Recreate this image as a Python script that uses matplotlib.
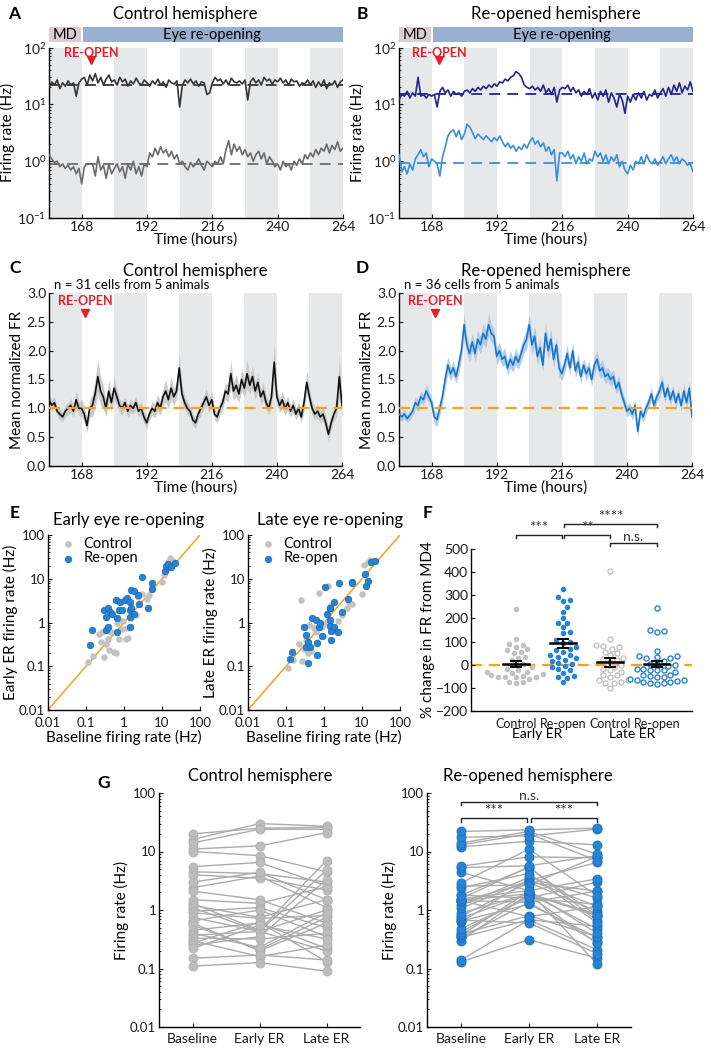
import matplotlib
matplotlib.use("Agg")
import matplotlib.pyplot as plt
import matplotlib.ticker as mticker
import matplotlib.transforms as mtrans
import numpy as np

plt.rcParams["font.family"] = ["Lato", "DejaVu Sans"]
plt.rcParams["mathtext.default"] = "regular"
plt.rcParams["axes.linewidth"] = 1.0

# ── Data ───────────────────────────────────────────────────────────────────────
# hourly samples, 156 h .. 264 h
a_top = [20, 25, 22, 27, 19, 24, 21, 26, 22, 24, 14, 24,
         28, 30, 22, 33, 26, 35, 24, 30, 22, 28, 33, 25,
         27, 22, 30, 25, 28, 21, 26, 23, 29, 24, 22, 27,
         24, 21, 26, 23, 28, 22, 25, 20, 27, 24, 23, 26,
         9, 22, 27, 24, 28, 23, 26, 21, 25, 24, 15, 16,
         24, 30, 26, 28, 23, 27, 22, 29, 25, 24, 26, 23,
         27, 12, 25, 29, 24, 27, 22, 30, 26, 28, 23, 27,
         25, 29, 24, 27, 22, 28, 25, 26, 21, 24, 23, 27,
         22, 26, 20, 25, 21, 27, 19, 24, 22, 26, 20, 25, 27]
a_bot = [1.3, 1.1, 0.95, 1.0, 0.8, 0.9, 0.75, 0.85, 0.7, 0.8, 0.6, 0.75,
         0.4, 0.8, 0.9, 0.9, 0.9, 0.55, 1.2, 0.7, 0.85, 0.5, 0.9, 0.6,
         0.75, 0.9, 0.65, 0.8, 0.5, 0.9, 0.7, 1.0, 0.6, 0.8, 0.55, 0.9,
         0.8, 1.4, 1.2, 1.7, 1.3, 1.8, 1.4, 1.6, 1.2, 1.5, 1.1, 1.3,
         0.9, 1.0, 0.8, 0.7, 0.95, 0.8, 0.9, 1.1, 0.85, 0.7, 1.0, 0.9,
         0.8, 1.0, 0.9, 1.2, 0.9, 1.6, 2.3, 1.3, 2.0, 1.5, 1.8, 1.3,
         1.6, 1.2, 1.4, 1.0, 1.3, 1.5, 1.1, 1.4, 0.9, 1.2, 1.0, 0.8,
         0.9, 0.7, 1.0, 0.8, 0.9, 0.7, 1.0, 0.85, 1.1, 0.9, 1.3, 1.1,
         1.4, 1.2, 1.6, 1.3, 1.7, 1.5, 2.0, 1.4, 1.9, 1.6, 2.2, 1.5, 1.7]
a_baseline = [22, 0.88]

b_top = [12, 15, 14, 17, 13, 16, 14, 30, 14, 15, 13, 15,
         14, 15, 9, 17, 20, 16, 18, 14, 17, 15, 16, 14,
         17, 18, 16, 19, 17, 20, 18, 21, 19, 22, 20, 23,
         21, 25, 24, 28, 26, 30, 32, 38, 35, 30, 22, 20,
         19, 21, 18, 20, 17, 22, 16, 19, 15, 20, 11, 18,
         20, 19, 22, 17, 20, 16, 18, 14, 17, 15, 19, 13,
         16, 12, 17, 14, 18, 11, 16, 13, 9, 15, 12, 7,
         14, 11, 15, 12, 16, 13, 17, 12, 15, 14, 18, 13,
         16, 19, 14, 20, 15, 22, 17, 24, 16, 21, 18, 25, 17]
b_bot = [1.3, 0.65, 0.8, 0.6, 0.9, 0.7, 1.1, 1.3, 1.6, 1.2, 1.4, 0.8,
         1.1, 1.0, 0.9, 0.55, 1.2, 1.8, 2.8, 3.3, 3.6, 2.7, 3.5, 2.4,
         3.0, 4.5, 4.0, 3.2, 2.5, 3.0, 2.7, 2.4, 2.8, 2.5, 2.2, 2.6,
         2.3, 2.8, 2.2, 1.8, 2.1, 1.7, 1.9, 1.5, 1.8, 1.6, 2.0, 1.7,
         2.2, 2.6, 2.0, 2.3, 1.8, 2.1, 1.5, 1.8, 1.3, 1.6, 0.45, 1.4,
         1.4, 1.2, 1.5, 1.1, 1.3, 0.9, 1.2, 1.0, 1.4, 0.9, 1.1, 1.0,
         1.5, 1.2, 1.4, 1.0, 1.3, 0.9, 1.2, 1.0, 1.3, 0.8, 1.0, 0.7,
         0.6, 0.85, 0.7, 1.0, 0.9, 1.2, 0.9, 1.3, 1.0, 0.9, 1.1, 0.85,
         1.0, 1.2, 0.9, 1.1, 1.3, 1.0, 1.2, 0.9, 1.1, 1.0, 0.85, 0.9, 0.65]
b_baseline = [15.5, 0.93]

c_mean = [1.15, 1.05, 1.1, 0.95, 0.9, 0.85, 0.95, 1.0, 1.05, 0.95, 1.15, 1.0,
          1.0, 0.9, 0.7, 1.0, 1.05, 1.25, 1.55, 1.3, 1.2, 1.0, 1.3, 1.1,
          1.35, 1.2, 1.05, 1.0, 1.1, 0.95, 1.05, 1.0, 1.1, 0.95, 1.0, 0.85,
          0.75, 0.9, 1.0, 0.95, 1.1, 1.0, 1.2, 1.3, 1.15, 1.35, 1.2, 1.3,
          1.7, 1.25, 1.1, 1.0, 0.95, 0.8, 0.75, 0.9, 1.0, 1.1, 1.2, 1.05,
          1.15, 0.9, 0.85, 1.0, 1.1, 1.3, 1.25, 1.6, 1.3, 1.4, 1.25, 1.5,
          1.35, 1.6, 1.4, 1.55, 1.3, 1.45, 1.2, 1.3, 1.1, 1.0, 1.2, 1.8,
          1.2, 1.05, 1.15, 1.0, 1.1, 0.95, 1.05, 0.9, 1.0, 0.85, 1.1, 1.45,
          1.2, 1.0, 0.9, 0.95, 0.85, 0.9, 0.75, 0.55, 0.75, 0.9, 1.0, 1.55, 1.05]
c_sem = [0.12, 0.1, 0.1, 0.08, 0.1, 0.08, 0.1, 0.1, 0.12, 0.1, 0.15, 0.12,
         0.15, 0.15, 0.12, 0.15, 0.2, 0.25, 0.3, 0.25, 0.2, 0.15, 0.2, 0.15,
         0.2, 0.15, 0.12, 0.12, 0.1, 0.1, 0.12, 0.1, 0.12, 0.1, 0.12, 0.1,
         0.1, 0.1, 0.12, 0.12, 0.15, 0.12, 0.15, 0.2, 0.15, 0.2, 0.15, 0.15,
         0.25, 0.15, 0.12, 0.12, 0.1, 0.1, 0.1, 0.1, 0.12, 0.12, 0.15, 0.12,
         0.15, 0.1, 0.1, 0.12, 0.12, 0.15, 0.15, 0.25, 0.15, 0.2, 0.15, 0.2,
         0.15, 0.25, 0.15, 0.2, 0.15, 0.15, 0.12, 0.15, 0.12, 0.12, 0.15, 0.35,
         0.15, 0.12, 0.15, 0.12, 0.12, 0.1, 0.12, 0.1, 0.12, 0.1, 0.15, 0.2,
         0.15, 0.12, 0.1, 0.12, 0.1, 0.12, 0.12, 0.12, 0.12, 0.12, 0.15, 0.35, 0.2]

d_mean = [0.9, 0.85, 0.9, 0.82, 0.88, 0.95, 1.1, 1.05, 1.2, 1.15, 1.3, 1.2,
          1.1, 0.85, 0.8, 1.0, 1.2, 1.5, 1.75, 1.6, 1.7, 1.55, 1.75, 2.0,
          2.45, 2.1, 1.95, 2.15, 1.95, 2.2, 2.1, 2.3, 2.2, 2.45, 2.3, 2.25,
          1.9, 2.0, 1.85, 1.9, 1.7, 1.85, 1.75, 1.9, 1.8, 1.95, 2.1, 2.2,
          2.45, 2.1, 2.25, 1.9, 2.05, 1.75, 2.3, 2.0, 2.2, 1.85, 2.1, 1.7,
          1.6, 1.75, 1.95, 1.7, 2.0, 1.65, 1.8, 1.55, 1.75, 1.6, 1.7, 1.5,
          1.75, 1.85, 1.65, 1.7, 1.55, 1.6, 1.5, 1.55, 1.35, 1.45, 1.25, 1.1,
          0.95, 1.0, 0.9, 1.05, 0.6, 0.95, 0.85, 1.0, 1.1, 1.25, 1.05, 1.2,
          1.3, 1.45, 1.2, 1.35, 1.15, 1.3, 1.1, 1.25, 1.05, 1.3, 1.1, 1.35, 0.85]
d_sem = [0.08, 0.08, 0.08, 0.07, 0.08, 0.08, 0.1, 0.1, 0.1, 0.1, 0.12, 0.1,
         0.1, 0.12, 0.12, 0.12, 0.12, 0.15, 0.15, 0.12, 0.12, 0.12, 0.15, 0.15,
         0.2, 0.15, 0.15, 0.15, 0.15, 0.15, 0.15, 0.18, 0.15, 0.2, 0.15, 0.15,
         0.15, 0.15, 0.12, 0.15, 0.12, 0.15, 0.12, 0.15, 0.12, 0.15, 0.15, 0.18,
         0.2, 0.15, 0.18, 0.15, 0.15, 0.12, 0.2, 0.15, 0.18, 0.15, 0.15, 0.15,
         0.12, 0.15, 0.15, 0.12, 0.15, 0.12, 0.15, 0.12, 0.12, 0.12, 0.12, 0.12,
         0.15, 0.15, 0.12, 0.15, 0.12, 0.12, 0.12, 0.12, 0.1, 0.12, 0.1, 0.1,
         0.1, 0.1, 0.1, 0.1, 0.1, 0.1, 0.1, 0.1, 0.1, 0.12, 0.1, 0.1,
         0.12, 0.12, 0.1, 0.1, 0.1, 0.1, 0.1, 0.1, 0.1, 0.12, 0.1, 0.12, 0.1]

# per-cell firing rates (Hz): baseline, early ER, late ER
ctrl_base = [20, 16, 14, 11, 10, 5.5, 4.5, 4.0, 2.4, 2.1, 1.5, 1.3, 1.2, 1.1, 0.95, 0.9,
             0.75, 0.65, 0.6, 0.55, 0.45, 0.4, 0.37, 0.33, 0.3, 0.27, 0.25, 0.22, 0.15, 0.11, 3.0]
ctrl_early = [25, 30, 24, 12.5, 8.5, 6.5, 4.2, 3.5, 3.8, 1.5, 1.3, 0.45, 0.75, 0.43, 1.1, 0.72,
              0.43, 1.0, 0.2, 0.21, 0.6, 0.23, 0.43, 0.32, 0.16, 0.62, 0.35, 0.55, 0.17, 0.126, 4.4]
ctrl_late = [26, 27, 24, 21, 4.5, 2.6, 3.0, 2.2, 1.1, 0.6, 2.5, 7.0, 1.5, 1.0, 0.5, 0.8,
             4.8, 0.35, 0.6, 0.75, 0.22, 0.9, 0.2, 0.4, 0.25, 0.13, 3.3, 0.32, 0.14, 0.09, 1.5]
reopen_base = [0.13, 0.14, 0.3, 0.34, 0.34, 0.37, 0.39, 0.42, 0.48, 0.62, 0.65, 0.67, 0.72,
               0.79, 0.88, 1.07, 1.2, 1.4, 1.45, 1.45, 1.45, 1.55, 1.55, 1.8, 1.8, 2.4, 2.55,
               2.9, 4.4, 5.3, 5.6, 12, 13, 14, 17.5, 22]
reopen_early = [0.31, 0.68, 1.9, 1.35, 0.68, 2.1, 0.8, 1.75, 1.6, 3.3, 1.25, 0.6, 1.9, 2.95,
                1.9, 3.2, 3.6, 2.95, 1.35, 0.77, 1.9, 2.15, 5.5, 5.3, 1.6, 4.2, 2.7, 11, 2.15,
                5.7, 8.1, 15, 20, 22, 18.5, 23.5]
reopen_late = [0.15, 0.21, 0.8, 0.28, 0.53, 0.12, 0.35, 0.27, 1.25, 1.15, 0.34, 0.18, 0.8,
               0.95, 0.48, 6.5, 1.6, 2.1, 2.1, 1.15, 0.85, 0.4, 0.65, 0.8, 3.0, 0.6, 8.2, 1.75,
               3.4, 8.5, 7.8, 13, 7, 9, 24, 25]

# % change in FR from MD4
f_early_ctrl = [241, 111, 89, 85, 77, 70, 63, 56, 49, 34, 27, 20, 5, 2, -12, -17, -21, -31,
                -35, -52, -46, -41, -47, -53, -74, -81, -74, -60, -53, -53, -31]
f_early_reopen = [328, 294, 280, 276, 248, 229, 200, 179, 179, 164, 143, 135, 106, 92, 99, 77,
                  70, 63, 56, 41, 41, 34, 27, 20, 8, 17, 5, -5, -9, -17, -21, -34, -50, -56,
                  -74, -53]
f_late_ctrl = [406, 111, 85, 80, 77, 66, 56, 49, 41, 31, 23, 20, 12, -2, -9, -17, -24, -31,
               -46, -46, -53, -64, -67, -77, -77, -99, -74]
f_late_reopen = [244, 143, 150, 146, 59, 37, 37, 34, 27, 27, 17, 5, 5, -2, -6, -17, -17, -21,
                 -21, -46, -50, -53, -46, -53, -64, -67, -60, -70, -79, -79, -76, -76, -82,
                 -24, -31]
f_mean = [2, 92, 10, 2]
f_sem = [14, 19, 18, 13]
f_labels = ["Control", "Re-open", "Control", "Re-open"]
g_labels = ["Baseline", "Early ER", "Late ER"]

# ── Style ──────────────────────────────────────────────────────────────────────
W, H = 711, 1050
BAND = "#e7e8ea"
RED = "#ea1c24"
ORANGE = "#f5a31a"
GREY_PT = "#c2c2c2"
BLUE_PT = "#2784d4"
NIGHTS = [(156, 168), (180, 192), (204, 216), (228, 240), (252, 264)]
TICK = 10
LAB = 11
TITLE = 12

fig = plt.figure(figsize=(W / 100, H / 100), dpi=100)


def add_ax(l, t, r, b):
    return fig.add_axes([l / W, 1 - b / H, (r - l) / W, (b - t) / H])


def ftext(x, y, s, **kw):
    kw.setdefault("ha", "center")
    kw.setdefault("va", "center")
    fig.text(x / W, 1 - y / H, s, **kw)


def style(ax, size=TICK):
    for s in ("top", "right"):
        ax.spines[s].set_visible(False)
    ax.tick_params(direction="in", length=3, width=0.8, labelsize=size, colors="#1a1a1a", pad=2)
    ax.tick_params(which="minor", direction="in", length=1.5, width=0.6)


def time_axes(ax):
    for s, e in NIGHTS:
        ax.axvspan(s, e, color=BAND, lw=0, zorder=0)
    ax.set_xlim(156, 264)
    ax.set_xticks([168, 192, 216, 240, 264])
    ax.set_xlabel("Time (hours)", fontsize=LAB, labelpad=0)
    style(ax)


def reopen_mark(ax, x, ytxt, ytri):
    tr = mtrans.blended_transform_factory(ax.transData, ax.transAxes)
    ax.text(x, ytxt, "RE-OPEN", transform=tr, color=RED, fontsize=9, fontweight="bold",
            ha="center", va="center")
    ax.plot([x], [ytri], marker="v", ms=5.5, color=RED, transform=tr, clip_on=False)


def header(l, r):
    hx = add_ax(l, 27, r, 42)
    hx.set_xlim(156, 264)
    hx.set_ylim(0, 1)
    hx.axvspan(156, 167.6, color="#dccdd2", lw=0)
    hx.axvspan(168.4, 264, color="#97b0cf", lw=0)
    hx.text(162, 0.48, "MD", ha="center", va="center", fontsize=10.5)
    hx.text(216, 0.48, "Eye re-opening", ha="center", va="center", fontsize=10.5)
    hx.axis("off")


# ── A / B: single units ────────────────────────────────────────────────────────
for l, r, top, bot, base, ctop, cbot, xr, title, tx, letter, lx in [
    (49, 343, a_top, a_bot, a_baseline, "#363636", "#6b6b6b", 171.5,
     "Control hemisphere", 185, "A", 14),
    (399, 693, b_top, b_bot, b_baseline, "#24248c", "#3b8ed8", 170.8,
     "Re-opened hemisphere", 556, "B", 362),
]:
    header(l, r)
    ax = add_ax(l, 47.7, r, 218)
    time_axes(ax)
    ax.set_yscale("log")
    ax.set_ylim(0.1, 100)
    for vals, col, b0 in [(top, ctop, base[0]), (bot, cbot, base[1])]:
        t = np.linspace(156, 264, len(vals))
        ax.plot(t, vals, color=col, lw=1.2, zorder=3)
        ax.plot([156, 264], [b0, b0], color=col, lw=1.3, dashes=(6, 4), zorder=2)
    ax.set_ylabel("Firing rate (Hz)", fontsize=LAB, labelpad=2)
    reopen_mark(ax, xr, 0.967, 0.928)
    ftext(tx, 14, title, fontsize=TITLE)
    ftext(lx, 14, letter, fontsize=12.5, fontweight="bold")

# ── C / D: population mean ─────────────────────────────────────────────────────
for l, r, mean, sem, col, bandcol, title, ntxt, letter, lx in [
    (49, 342, c_mean, c_sem, "#111111", "#c4c4c4", "Control hemisphere",
     "n = 31 cells from 5 animals", "C", 15),
    (399, 692, d_mean, d_sem, "#1a76c9", "#a8c6e8", "Re-opened hemisphere",
     "n = 36 cells from 5 animals", "D", 362),
]:
    ax = add_ax(l, 293, r, 466)
    time_axes(ax)
    m = np.array(mean)
    s = np.array(sem)
    t = np.linspace(156, 264, len(m))
    ax.fill_between(t, m - s, m + s, color=bandcol, lw=0, alpha=0.85, zorder=2)
    ax.plot(t, m, color=col, lw=1.2, zorder=3)
    ax.axhline(1.0, color=ORANGE, lw=1.6, dashes=(5, 3), zorder=4)
    ax.set_ylim(0, 3)
    ax.set_yticks(np.arange(0, 3.01, 0.5))
    ax.yaxis.set_major_formatter(mticker.FormatStrFormatter("%.1f"))
    ax.set_ylabel("Mean normalized FR", fontsize=LAB, labelpad=2)
    reopen_mark(ax, 169.3, 0.955, 0.885)
    ftext((l + r) / 2, 271, title, fontsize=TITLE)
    ftext(l + 5, 285, ntxt, fontsize=9.5, ha="left")
    ftext(lx, 268, letter, fontsize=12.5, fontweight="bold")

# ── E: scatter baseline vs ER ──────────────────────────────────────────────────
logfmt = mticker.FuncFormatter(lambda v, _: f"{v:g}")
for l, r, later, ylab, title, tx in [
    (48, 200, (ctrl_early, reopen_early), "Early ER firing rate (Hz)", "Early eye re-opening", 129),
    (248, 400, (ctrl_late, reopen_late), "Late ER firing rate (Hz)", "Late eye re-opening", 330),
]:
    ax = add_ax(l, 535, r, 710)
    style(ax, size=9.5)
    ax.set_xscale("log")
    ax.set_yscale("log")
    ax.set_xlim(0.01, 100)
    ax.set_ylim(0.01, 100)
    ax.plot([0.01, 100], [0.01, 100], color=ORANGE, lw=1.1, zorder=1)
    ax.scatter(ctrl_base, later[0], s=22, color=GREY_PT, lw=0, zorder=2, label="Control")
    ax.scatter(reopen_base, later[1], s=22, color=BLUE_PT, edgecolor="#1667b3", lw=0.5,
               zorder=3, label="Re-open")
    for axis in (ax.xaxis, ax.yaxis):
        axis.set_major_locator(mticker.LogLocator(base=10, numticks=10))
        axis.set_major_formatter(logfmt)
    ax.tick_params(axis="x", pad=5)
    ax.set_xlabel("Baseline firing rate (Hz)", fontsize=LAB, labelpad=1)
    ax.set_ylabel(ylab, fontsize=LAB, labelpad=1)
    ax.legend(loc="upper left", bbox_to_anchor=(-0.02, 1.04), frameon=False, fontsize=10.5,
              handletextpad=0.05, labelspacing=0.05, borderaxespad=0.2, scatterpoints=1)
    ftext(tx, 520, title, fontsize=TITLE)
ftext(15, 513, "E", fontsize=12.5, fontweight="bold")

# ── F: % change swarm ──────────────────────────────────────────────────────────
ax = add_ax(471, 549, 692, 711)
style(ax)
ax.set_xlim(-0.96, 3.75)
ax.set_ylim(-200, 500)
ax.set_yticks(np.arange(-200, 501, 100))
ax.set_xticks(range(4))
ax.set_xticklabels(f_labels, fontsize=9)
ax.tick_params(axis="x", length=0, pad=5)
ax.axhline(0, color=ORANGE, lw=1.6, dashes=(5, 3), zorder=1)
ax.set_ylabel("% change in FR from MD4", fontsize=LAB, labelpad=1)


def swarm(vals, xc, diam=5.6):
    pts = ax.transData.transform(np.column_stack([np.full(len(vals), xc), vals]))
    ys = pts[:, 1]
    pxu = ax.transData.transform((1, 0))[0] - ax.transData.transform((0, 0))[0]
    placed, offs = [], np.zeros(len(vals))
    step = diam * 0.4
    for i in np.argsort(ys):
        for k in range(60):
            cands = [0.0] if k == 0 else [k * step, -k * step]
            hit = None
            for c in cands:
                if all((c - px) ** 2 + (ys[i] - py) ** 2 >= diam ** 2 for px, py in placed):
                    hit = c
                    break
            if hit is not None:
                break
        placed.append((hit, ys[i]))
        offs[i] = hit / pxu
    return xc + offs


groups = [f_early_ctrl, f_early_reopen, f_late_ctrl, f_late_reopen]
for i, vals in enumerate(groups):
    xs = swarm(vals, i)
    col = GREY_PT if i % 2 == 0 else BLUE_PT
    if i < 2:
        ax.scatter(xs, vals, s=16, color=col, lw=0, zorder=3)
    else:
        ax.scatter(xs, vals, s=13, facecolor="white", edgecolor=col, lw=1.0, zorder=3)
for i, (mu, se) in enumerate(zip(f_mean, f_sem)):
    ax.plot([i - 0.27, i + 0.27], [mu, mu], color="black", lw=1.8, zorder=5)
    ax.errorbar(i, mu, yerr=se, color="black", lw=1.4, capsize=4, capthick=1.4, zorder=5)


def bracket(a, x0, x1, y, txt, drop, tsize=11, log=False):
    y2 = y * drop if log else y - drop
    a.plot([x0, x0, x1, x1], [y2, y, y, y2], color="#222222", lw=1.0, clip_on=False)
    a.text((x0 + x1) / 2, y, txt, ha="center", va="bottom", fontsize=tsize, clip_on=False,
           color="#333333")


bracket(ax, 0.0, 0.97, 560, "***", 12)
bracket(ax, 1.03, 2.0, 560, "**", 12)
bracket(ax, 2.0, 3.0, 526, "n.s.", 12, tsize=10)
bracket(ax, 1.03, 3.0, 608, "****", 12)
ftext(537, 734, "Early ER", fontsize=10)
ftext(632, 734, "Late ER", fontsize=10)
ftext(428, 513, "F", fontsize=12.5, fontweight="bold")

# ── G: paired firing rates ─────────────────────────────────────────────────────
for l, r, base, early, late, col, edge, title, tx in [
    (159, 360, ctrl_base, ctrl_early, ctrl_late, "#bdbdbd", "#b0b0b0", "Control hemisphere", 260),
    (427, 631, reopen_base, reopen_early, reopen_late, BLUE_PT, "#1d6fbe",
     "Re-opened hemisphere", 528),
]:
    ax = add_ax(l, 793, r, 1027)
    style(ax, size=9.5)
    ax.set_yscale("log")
    ax.set_ylim(0.01, 100)
    ax.set_xlim(-0.5, 2.5)
    cells = np.column_stack([base, early, late])
    for row in cells:
        ax.plot(range(3), row, color="#ababab", lw=1.0, zorder=2)
        ax.plot(range(3), row, ls="none", marker="o", ms=6.5, mfc=col, mec=edge, mew=0.6,
                zorder=3)
    ax.yaxis.set_major_locator(mticker.LogLocator(base=10, numticks=10))
    ax.yaxis.set_major_formatter(logfmt)
    ax.set_xticks(range(3))
    ax.set_xticklabels(g_labels, fontsize=10)
    ax.tick_params(axis="x", length=3, pad=4)
    ax.set_ylabel("Firing rate (Hz)", fontsize=LAB, labelpad=1)
    ftext(tx, 776, title, fontsize=TITLE)
    if title.startswith("Re"):
        bracket(ax, 0.0, 2.0, 70, "n.s.", 0.88, tsize=10, log=True)
        bracket(ax, 0.0, 0.97, 37, "***", 0.88, log=True)
        bracket(ax, 1.03, 2.0, 37, "***", 0.88, log=True)
ftext(104, 783, "G", fontsize=12.5, fontweight="bold")

fig.savefig("out.png", dpi=100, facecolor="white")
